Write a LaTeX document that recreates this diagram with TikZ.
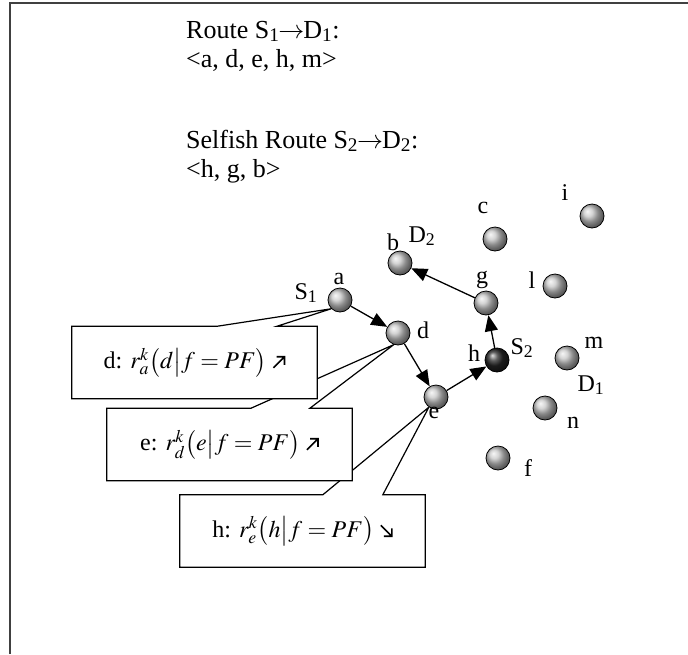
\documentclass[tikz,border=0pt]{standalone}
\usepackage{mathptmx}
\usepackage{fontspec}
\setmainfont{Liberation Serif}
\usepackage{tikz}
\usetikzlibrary{arrows.meta,calc,shadings}
\pgfdeclarelayer{bg}
\pgfsetlayers{bg,main}
\newcommand{\rankup}{\tikz[x=1pt,y=1pt,baseline=-1pt,line width=1.6pt]{\draw (0,0)--(11,11) (3,11)--(11,11)--(11,3);}}
\newcommand{\rankdown}{\tikz[x=1pt,y=1pt,baseline=-1pt,line width=1.6pt]{\draw (0,11)--(11,0) (3,0)--(11,0)--(11,8);}}
\newcommand{\rto}{\hspace{-1pt}$\rightarrow$\hspace{-1pt}}

\begin{document}
\begin{tikzpicture}[x=1pt,y=-1pt,>={Triangle[length=16pt,width=13pt]},
  ball/.style={circle,minimum size=24pt,inner sep=0pt,draw=black,line width=.8pt,shading=ball,ball color=gray!45},
  lab/.style={font=\fontsize{24}{28}\selectfont,inner sep=0pt},
  cbox/.style={minimum width=245pt,minimum height=72pt,inner sep=0pt},
  callout/.style={draw,fill=white,line width=1.2pt},
  ctext/.style={font=\fontsize{24}{28}\selectfont,inner sep=0pt},
  route/.style={font=\fontsize{26}{29}\selectfont,align=left,inner sep=0pt}]
\useasboundingbox (0,0) rectangle (688,654);
\draw[line width=1.5pt,black!75] (10,654)--(10,3)--(688,3);

\node[route,anchor=base west] (route1) at (186,67) {Route S\textsubscript{1}\rto D\textsubscript{1}:\\<a, d, e, h, m>};
\node[route,anchor=base west] (route2) at (186,177) {Selfish Route S\textsubscript{2}\rto D\textsubscript{2}:\\<h, g, b>};

\foreach \n/\x/\y in {a/340/300,d/398/333,e/436/397,g/486/303,b/400/263,c/495/239,i/592/216,l/555/286,m/567/358,n/545/408,f/498/458}{\node[ball] (\n) at (\x,\y) {};}
\node[ball,ball color=black!85] (h) at (497,360) {};

\foreach \n/\t/\x/\y in {a/a/339/279,S1/S\textsubscript{1}/306/293,d/d/423/330,e/e/434/413,h/h/474/353,S2/S\textsubscript{2}/522/348,g/g/482/280,b/b/393/242,D2/D\textsubscript{2}/422/236,c/c/483/208,i/i/565/193,l/l/532/280,m/m/594/343,D1/D\textsubscript{1}/591/385,n/n/573/423,f/f/528/468}{\node[lab] (t\n) at (\x,\y) {\t};}

\draw[->,line width=1.3pt] (a)--(d);
\draw[->,line width=1.3pt] (d)--(e);
\draw[->,line width=1.3pt] (e)--(h);
\draw[->,line width=1.3pt] (h)--(g);
\draw[->,line width=1.3pt] (g)--(b);

\begin{pgfonlayer}{bg}
\node[cbox] (cb3) at (302.5,531) {};
\draw[callout] (cb3.north west)--++(143,0)--(e.235)--($(cb3.north west)+(203,0)$)--(cb3.north east)--(cb3.south east)--(cb3.south west)--cycle;
\node[ctext] (txt3) at (cb3) {h: $r_e^k\bigl(h\big|f=PF\bigr)$ \rankdown};
\node[cbox] (cb2) at (229.5,444.5) {};
\draw[callout] (cb2.north west)--++(144,0)--(d.250)--($(cb2.north west)+(203,0)$)--(cb2.north east)--(cb2.south east)--(cb2.south west)--cycle;
\node[ctext] (txt2) at (cb2) {e: $r_d^k\bigl(e\big|f=PF\bigr)$ \rankup};
\node[cbox] (cb1) at (194.5,362.5) {};
\draw[callout] (cb1.north west)--++(145,0)--(a.225)--($(cb1.north west)+(205,0)$)--(cb1.north east)--(cb1.south east)--(cb1.south west)--cycle;
\node[ctext] (txt1) at (cb1) {d: $r_a^k\bigl(d\big|f=PF\bigr)$ \rankup};
\end{pgfonlayer}
\end{tikzpicture}
\end{document}
